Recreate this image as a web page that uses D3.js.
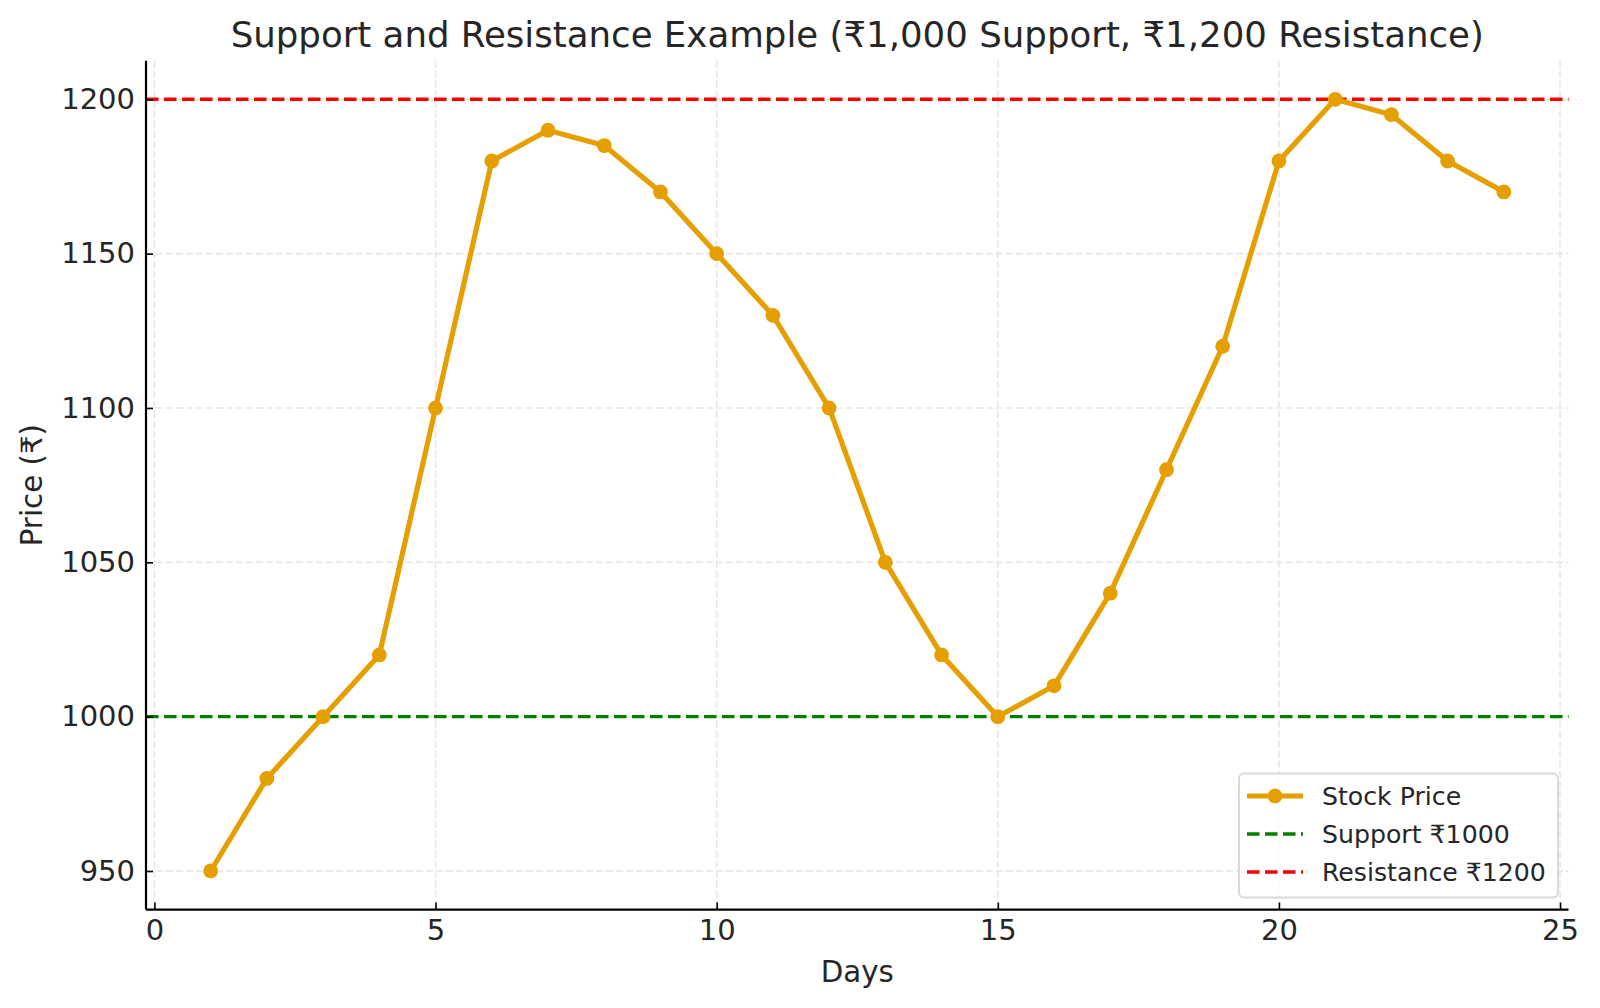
<!DOCTYPE html>
<html><head><meta charset="utf-8">
<script src="https://cdn.jsdelivr.net/npm/d3@7"></script>
<style>
body{margin:0;background:#fff;}
text{font-family:"DejaVu Sans",sans-serif;fill:#262626;}
</style></head>
<body><svg id="c" width="1600" height="1008"></svg>
<script>
const days = [1,2,3,4,5,6,7,8,9,10,11,12,13,14,15,16,17,18,19,20,21,22,23,24];
const prices = [950,980,1000,1020,1100,1180,1190,1185,1170,1150,1130,1100,1050,1020,1000,1010,1040,1080,1120,1180,1200,1195,1180,1170];
const supportLevel = 1000;
const resistanceLevel = 1200;
const xTicks = [0,5,10,15,20,25];
const yTicks = [950,1000,1050,1100,1150,1200];
const legendLabels = ["Stock Price","Support ₹1000","Resistance ₹1200"];
const titleText = "Support and Resistance Example (₹1,000 Support, ₹1,200 Resistance)";

const svg = d3.select("#c");
const L=146, R=1568.5, T=60.7, B=909.6;
const x = d3.scaleLinear().domain([-0.15,25.15]).range([L,R]);
const y = d3.scaleLinear().domain([937.5,1212.5]).range([B,T]);

// grid
const g = svg.append("g");
g.selectAll(".gx").data(xTicks).enter().append("line")
 .attr("x1",d=>x(d)).attr("x2",d=>x(d)).attr("y1",T).attr("y2",B)
 .attr("stroke","#e6e6e6").attr("stroke-width",1.6).attr("stroke-dasharray","7,3");
g.selectAll(".gy").data(yTicks).enter().append("line")
 .attr("y1",d=>y(d)).attr("y2",d=>y(d)).attr("x1",L).attr("x2",R)
 .attr("stroke","#e6e6e6").attr("stroke-width",1.6).attr("stroke-dasharray","7,3");

// support/resistance
svg.append("line").attr("x1",L).attr("x2",R).attr("y1",y(supportLevel)).attr("y2",y(supportLevel))
 .attr("stroke","#008000").attr("stroke-width",3.4).attr("stroke-dasharray","12.5,5.5");
svg.append("line").attr("x1",L).attr("x2",R).attr("y1",y(resistanceLevel)).attr("y2",y(resistanceLevel))
 .attr("stroke","#ff0000").attr("stroke-width",3.4).attr("stroke-dasharray","12.5,5.5");

// price line
const data = days.map((d,i)=>({d, p:prices[i]}));
svg.append("path").datum(data)
 .attr("d", d3.line().x(d=>x(d.d)).y(d=>y(d.p)))
 .attr("fill","none").attr("stroke","#e69f00").attr("stroke-width",5.2).attr("stroke-linejoin","round");
svg.selectAll(".pt").data(data).enter().append("circle")
 .attr("cx",d=>x(d.d)).attr("cy",d=>y(d.p)).attr("r",7.4).attr("fill","#e69f00");

// axes
const xa = svg.append("g").attr("transform",`translate(0,${B})`)
 .call(d3.axisBottom(x).tickValues(xTicks).tickSize(-7).tickPadding(10).tickFormat(d3.format("d")));
const ya = svg.append("g").attr("transform",`translate(${L},0)`)
 .call(d3.axisLeft(y).tickValues(yTicks).tickSize(-7).tickPadding(11).tickFormat(d3.format("d")));
[xa,ya].forEach(a=>{
 a.select(".domain").attr("stroke","#000").attr("stroke-width",2.2);
 a.selectAll(".tick line").attr("stroke","#000").attr("stroke-width",1.6);
 a.selectAll(".tick text").style("font-family","DejaVu Sans").style("font-size","29px").attr("fill","#000");
});
xa.select(".domain").attr("d",`M${L},0H${R}`);
ya.select(".domain").attr("d",`M0,${T}V${B}`);

// titles
svg.append("text").attr("x",(L+R)/2).attr("y",34).attr("text-anchor","middle").attr("dominant-baseline","central")
 .style("font-size","35.6px").text(titleText);
svg.append("text").attr("x",(L+R)/2).attr("y",972).attr("text-anchor","middle").attr("dominant-baseline","central")
 .style("font-size","29.3px").text("Days");
svg.append("text").attr("transform",`translate(31.5,${(T+B)/2}) rotate(-90)`).attr("text-anchor","middle").attr("dominant-baseline","central")
 .style("font-size","29.3px").text("Price (₹)");

// legend
const lg = svg.append("g");
lg.append("rect").attr("x",1239).attr("y",773.5).attr("width",319).attr("height",124).attr("rx",5)
 .attr("fill","#fff").attr("fill-opacity",0.8).attr("stroke","#d9d9d9").attr("stroke-width",2);
const rows=[796,834,872];
const colors=["#e69f00","#008000","#ff0000"];
rows.forEach((ry,i)=>{
 if(i===0){
  lg.append("line").attr("x1",1247).attr("x2",1303).attr("y1",ry).attr("y2",ry).attr("stroke",colors[i]).attr("stroke-width",5.2);
  lg.append("circle").attr("cx",1275).attr("cy",ry).attr("r",7.4).attr("fill",colors[i]);
 } else {
  lg.append("line").attr("x1",1247).attr("x2",1303).attr("y1",ry).attr("y2",ry).attr("stroke",colors[i]).attr("stroke-width",3.4).attr("stroke-dasharray","12.5,5.5");
 }
 lg.append("text").attr("x",1322).attr("y",ry).attr("dominant-baseline","central").style("font-size","25.2px").text(legendLabels[i]);
});
</script></body></html>
